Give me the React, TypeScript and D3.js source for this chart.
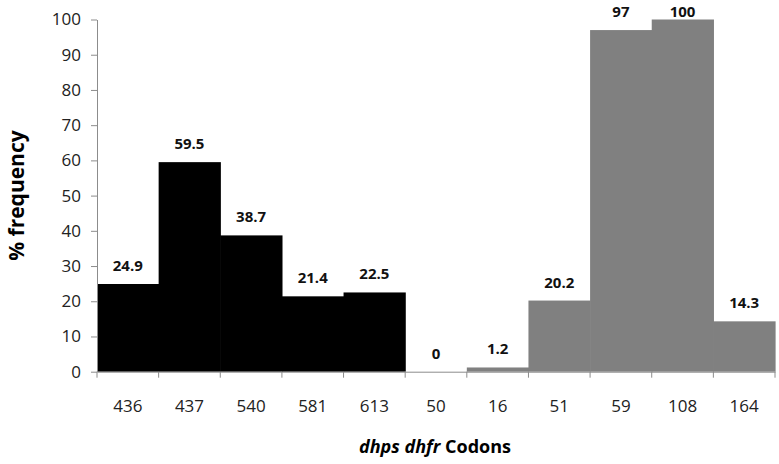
import { useEffect, useRef } from "react";
import * as d3 from "d3";

const codons = ["436", "437", "540", "581", "613", "50", "16", "51", "59", "108", "164"];
const values = [24.9, 59.5, 38.7, 21.4, 22.5, 0, 1.2, 20.2, 97, 100, 14.3];
const genes = ["dhps", "dhps", "dhps", "dhps", "dhps", "dhfr", "dhfr", "dhfr", "dhfr", "dhfr", "dhfr"];
const yTicks = [0, 10, 20, 30, 40, 50, 60, 70, 80, 90, 100];

export default function App() {
  const ref = useRef<SVGSVGElement>(null);

  useEffect(() => {
    const width = 779;
    const height = 464;
    const left = 97, right = 775, top = 19.5, bottom = 371.7;
    const font = "'Open Sans', 'DejaVu Sans', sans-serif";

    const svg = d3.select(ref.current);
    svg.selectAll("*").remove();
    svg.attr("width", width).attr("height", height);

    const x = d3.scaleBand().domain(codons).range([left, right]).padding(0);
    const y = d3.scaleLinear().domain([0, 100]).range([bottom, top]);

    const data = codons.map((c, i) => ({ codon: c, value: values[i], gene: genes[i] }));

    // bars (overlap by a pixel so no seams show)
    svg.append("g")
      .selectAll("rect")
      .data(data)
      .join("rect")
      .attr("x", d => x(d.codon)!)
      .attr("y", d => y(d.value))
      .attr("width", x.bandwidth() + 0.6)
      .attr("height", d => bottom - y(d.value))
      .attr("fill", d => (d.gene === "dhps" ? "#000000" : "#808080"));

    // y axis
    const yAxis = svg.append("g")
      .attr("transform", `translate(${left},0)`)
      .call(d3.axisLeft(y).tickValues(yTicks).tickSize(6).tickSizeOuter(0));
    yAxis.select(".domain").attr("stroke", "#8c8c8c");
    yAxis.selectAll(".tick line").attr("stroke", "#8c8c8c");
    yAxis.selectAll(".tick text")
      .attr("font-family", font)
      .attr("font-size", 17)
      .attr("fill", "#222")
      .attr("x", -16);

    // x axis
    const xAxis = svg.append("g")
      .attr("transform", `translate(0,${bottom})`)
      .call(d3.axisBottom(x).tickSize(0).tickSizeOuter(0));
    xAxis.select(".domain").attr("stroke", "#8c8c8c");
    xAxis.selectAll(".tick text")
      .attr("font-family", font)
      .attr("font-size", 17)
      .attr("fill", "#222")
      .attr("dy", "0")
      .attr("y", 40);

    // tick marks between categories
    svg.append("g")
      .selectAll("line")
      .data(d3.range(codons.length + 1))
      .join("line")
      .attr("x1", i => left + i * x.bandwidth())
      .attr("x2", i => left + i * x.bandwidth())
      .attr("y1", bottom)
      .attr("y2", bottom + 6)
      .attr("stroke", "#8c8c8c");

    // value labels
    svg.append("g")
      .selectAll("text")
      .data(data)
      .join("text")
      .attr("x", d => x(d.codon)! + x.bandwidth() / 2)
      .attr("y", d => Math.max(y(d.value) - 13, 17))
      .attr("text-anchor", "middle")
      .attr("font-family", font)
      .attr("font-size", 15)
      .attr("font-weight", "bold")
      .attr("fill", "#111")
      .text(d => String(d.value));

    // y title
    svg.append("text")
      .attr("transform", `translate(24,${(top + bottom) / 2}) rotate(-90)`)
      .attr("text-anchor", "middle")
      .attr("font-family", font)
      .attr("font-size", 21)
      .attr("font-weight", "bold")
      .attr("fill", "#000")
      .text("% frequency");

    // x title
    const xt = svg.append("text")
      .attr("x", 435)
      .attr("y", 453)
      .attr("text-anchor", "middle")
      .attr("font-family", font)
      .attr("font-size", 18)
      .attr("font-weight", "bold")
      .attr("fill", "#000");
    xt.append("tspan").attr("font-style", "italic").text("dhps dhfr");
    xt.append("tspan").text(" Codons");
  }, []);

  return <svg ref={ref} style={{ position: "absolute", left: 0, top: 0 }} />;
}
